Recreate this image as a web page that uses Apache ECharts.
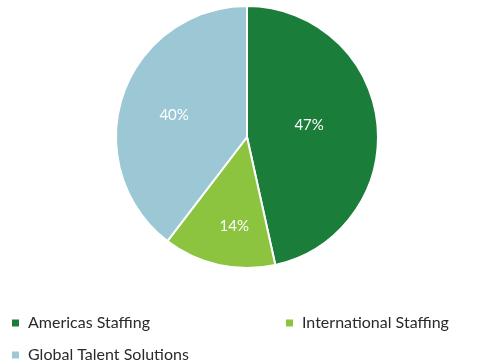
<!DOCTYPE html>
<html>
<head>
<meta charset="utf-8">
<script src="https://cdn.jsdelivr.net/npm/echarts@6/dist/echarts.min.js"></script>
<style>
  html, body { margin: 0; padding: 0; background: #fff; }
  #chart { width: 480px; height: 364px; }
</style>
</head>
<body>
<div id="chart"></div>
<script>
// Revenue share by segment (percent)
const segments = ['Americas Staffing', 'International Staffing', 'Global Talent Solutions'];
const shares = [47, 14, 40];
const colors = ['#1a7d3a', '#8cc43f', '#9cc8d6'];

// small nudges for the in-slice labels
const labelShift = [[-6, -4], [2, 22], [-8, 0]];

const chart = echarts.init(document.getElementById('chart'));
const font = 'Lato, "Open Sans", sans-serif';

const legendAt = [
  { left: 10, top: 315 },
  { left: 284, top: 315 },
  { left: 10, top: 347 }
];

chart.setOption({
  animation: false,
  legend: segments.map((name, i) => ({
    data: [name],
    left: legendAt[i].left,
    top: legendAt[i].top,
    padding: 0,
    icon: 'rect',
    itemWidth: 9,
    itemHeight: 9,
    itemGap: 6,
    textStyle: { fontFamily: font, fontSize: 16, color: '#2a2a2a', padding: [0, 0, 0, 3] }
  })),
  series: [{
    type: 'pie',
    center: [247, 137],
    radius: 131,
    startAngle: 90,
    clockwise: true,
    data: segments.map((name, i) => ({
      name: name,
      value: shares[i],
      itemStyle: { color: colors[i] }
    })),
    itemStyle: { borderColor: '#fff', borderWidth: 2 },
    label: {
      position: 'inside',
      formatter: p => p.value + '%',
      color: '#fff',
      fontFamily: font,
      fontSize: 15
    },
    labelLayout: p => ({ dx: labelShift[p.dataIndex][0], dy: labelShift[p.dataIndex][1] }),
    emphasis: { disabled: true }
  }]
});
</script>
</body>
</html>
